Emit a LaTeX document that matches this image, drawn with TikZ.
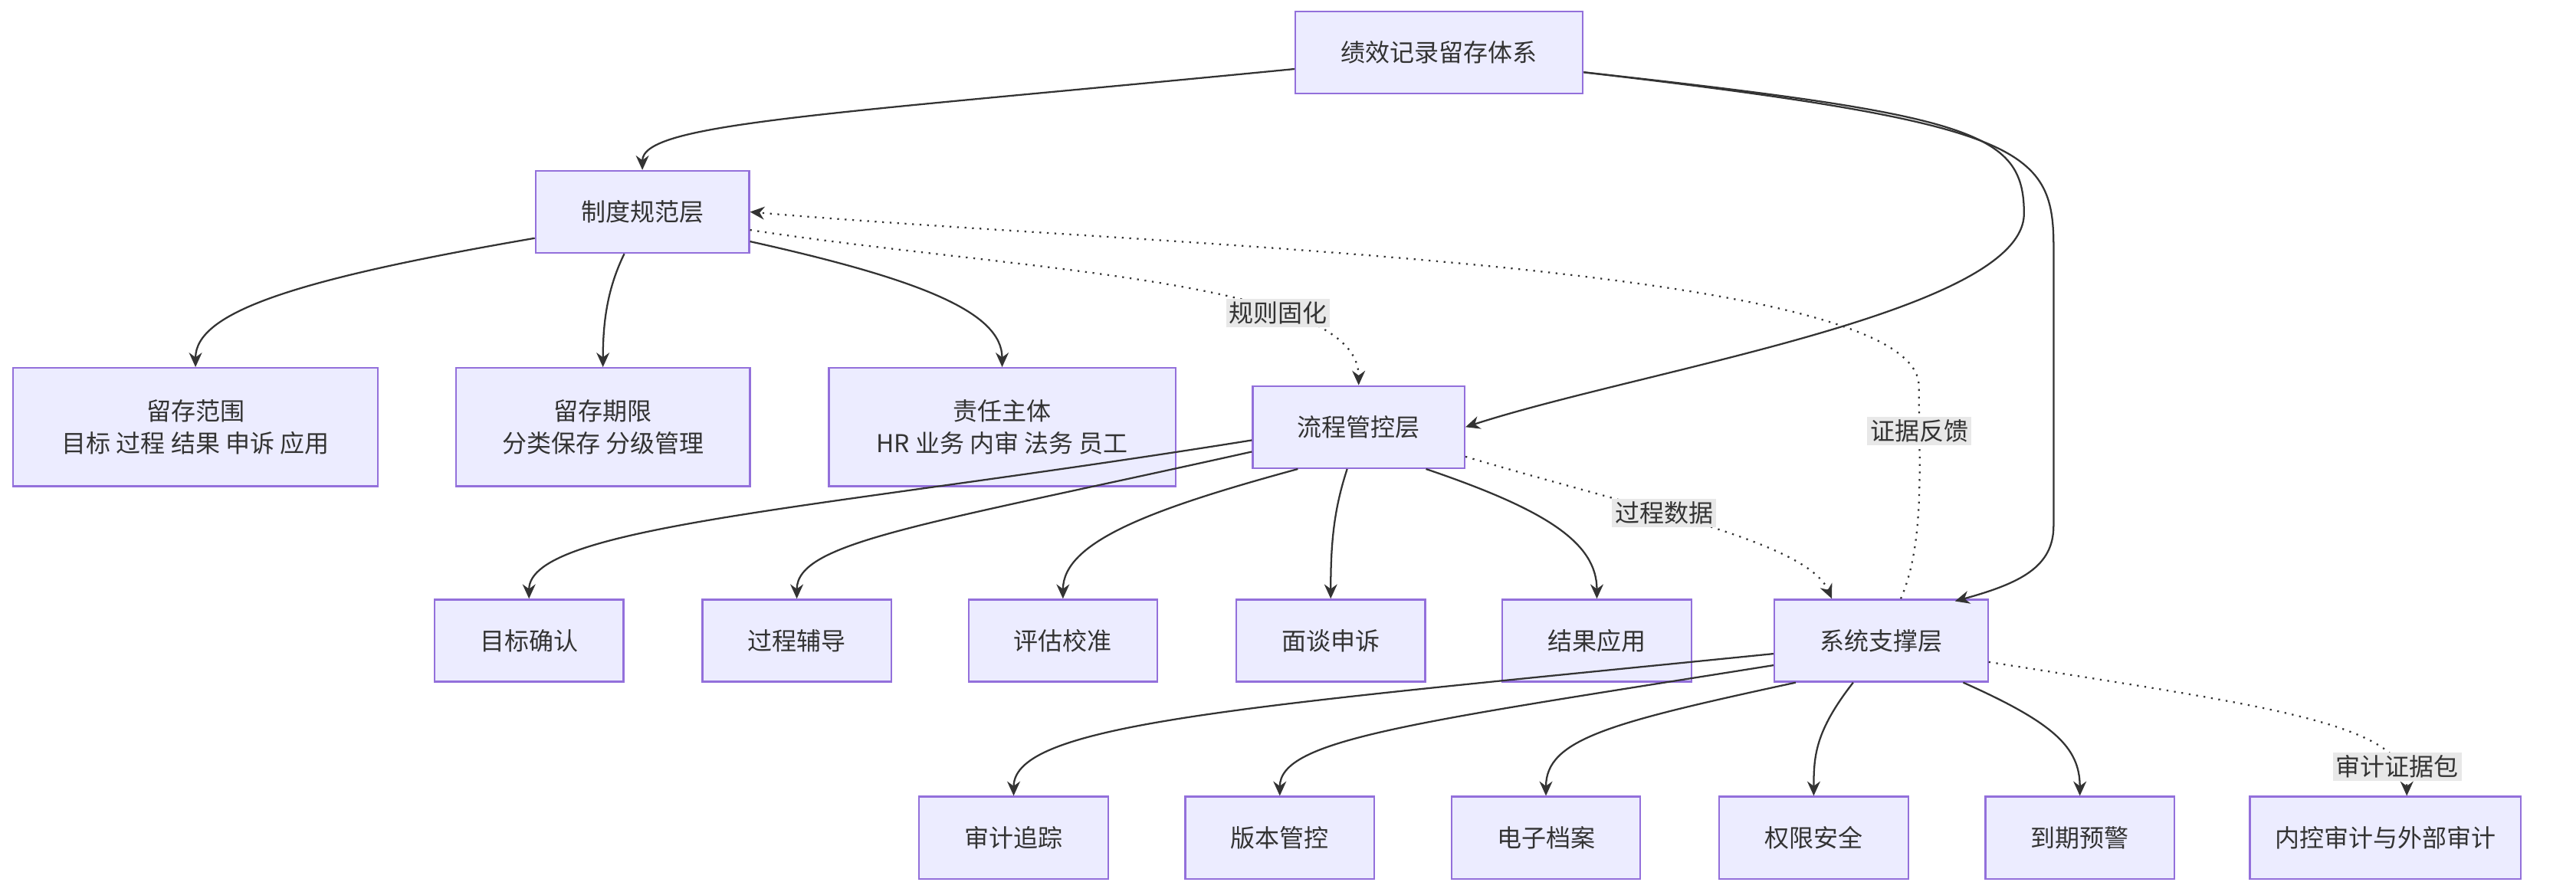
\documentclass[tikz,border=0pt]{standalone}
\usepackage{fontspec}
\setmainfont{Noto Sans CJK SC}
\usetikzlibrary{arrows.meta,calc}
\definecolor{nfill}{HTML}{ECECFF}
\definecolor{nline}{HTML}{9370DB}
\definecolor{eline}{HTML}{333333}
\begin{document}
\begin{tikzpicture}[x=0.02cm,y=-0.02cm,
  box/.style={draw=nline,fill=nfill,line width=0.6pt,minimum height=1cm,inner sep=1pt,font=\fontsize{8.5}{11}\selectfont,align=center,text=eline},
  tall/.style={box,minimum height=1.44cm},
  edge/.style={draw=eline,line width=0.6pt,-{Stealth[length=5pt,width=4.5pt]}},
  dot/.style={edge,dotted},
  lab/.style={fill=gray!18,inner sep=1pt,font=\fontsize{8.5}{11}\selectfont,text=eline}]
\useasboundingbox (0,0) rectangle (1568,543);
\node[box,minimum width=3.5cm] (root) at (876,32) {绩效记录留存体系};
\node[box,minimum width=2.6cm] (zd) at (391,129) {制度规范层};
\node[tall,minimum width=4.44cm] (fw) at (119,260) {留存范围\\目标 过程 结果 申诉 应用};
\node[tall,minimum width=3.58cm] (qx) at (367,260) {留存期限\\分类保存 分级管理};
\node[tall,minimum width=4.22cm] (zr) at (610,260) {责任主体\\HR 业务 内审 法务 员工};
\node[box,minimum width=2.58cm] (lc) at (827,260) {流程管控层};
\node[box,minimum width=2.3cm] (mb) at (322,390) {目标确认};
\node[box,minimum width=2.3cm] (gc) at (485,390) {过程辅导};
\node[box,minimum width=2.3cm] (pg) at (647,390) {评估校准};
\node[box,minimum width=2.3cm] (mt) at (810,390) {面谈申诉};
\node[box,minimum width=2.3cm] (jg) at (972,390) {结果应用};
\node[box,minimum width=2.6cm] (xt) at (1145,390) {系统支撑层};
\node[box,minimum width=2.3cm] (sj) at (617,510) {审计追踪};
\node[box,minimum width=2.3cm] (bb) at (779,510) {版本管控};
\node[box,minimum width=2.3cm] (da) at (941,510) {电子档案};
\node[box,minimum width=2.3cm] (qa) at (1104,510) {权限安全};
\node[box,minimum width=2.3cm] (dq) at (1266,510) {到期预警};
\node[box,minimum width=3.3cm] (nk) at (1452,510) {内控审计与外部审计};
% solid edges
\draw[edge] ($(root.west)+(0,10)$) .. controls (500,70) and (391,75) .. (zd.north);
\draw[edge] ($(root.east)+(0,12)$) .. controls (1200,70) and (1232,80) .. (1232,130) .. controls (1232,190) and (1000,225) .. (lc.east);
\draw[edge] ($(root.east)+(0,12)$) .. controls (1230,75) and (1250,90) .. (1250,150) -- (1250,320) .. controls (1250,345) and (1230,355) .. (1190,366);
\draw[edge] ($(zd.west)+(0,16)$) .. controls (180,170) and (119,190) .. (fw.north);
\draw[edge] ($(zd.south)+(-11,0)$) .. controls (370,175) and (367,195) .. (qx.north);
\draw[edge] ($(zd.east)+(0,18)$) .. controls (560,170) and (610,190) .. (zr.north);
\draw[edge] ($(lc.west)+(0,8)$) .. controls (500,310) and (322,320) .. (mb.north);
\draw[edge] ($(lc.west)+(0,15)$) .. controls (560,320) and (485,330) .. (gc.north);
\draw[edge] ($(lc.south)+(-37,0)$) .. controls (700,310) and (647,330) .. (pg.north);
\draw[edge] ($(lc.south)+(-7,0)$) .. controls (812,310) and (810,330) .. (mt.north);
\draw[edge] ($(lc.south)+(41,0)$) .. controls (940,310) and (972,330) .. (jg.north);
\draw[edge] ($(xt.west)+(0,8)$) .. controls (760,430) and (617,440) .. (sj.north);
\draw[edge] ($(xt.west)+(0,15)$) .. controls (860,440) and (779,450) .. (bb.north);
\draw[edge] ($(xt.south)+(-52,0)$) .. controls (980,440) and (941,450) .. (da.north);
\draw[edge] ($(xt.south)+(-17,0)$) .. controls (1105,445) and (1104,460) .. (qa.north);
\draw[edge] ($(xt.south)+(50,0)$) .. controls (1250,440) and (1266,455) .. (dq.north);
% dotted edges
\draw[dot] ($(zd.east)+(0,11)$) .. controls (620,165) and (827,170) .. node[lab,pos=0.7] {规则固化} (lc.north);
\draw[dot] ($(xt.north)+(12,0)$) .. controls (1172,330) and (1168,280) .. node[lab,pos=0.8] {证据反馈} (1168,235) .. controls (1168,160) and (700,150) .. (zd.east);
\draw[dot] ($(lc.east)+(0,18)$) .. controls (1000,310) and (1100,330) .. node[lab,pos=0.4] {过程数据} ($(xt.north)+(-30,0)$);
\draw[dot] ($(xt.east)+(0,13)$) .. controls (1380,430) and (1465,440) .. node[lab,pos=0.85] {审计证据包} ($(nk.north)+(13,0)$);
\end{tikzpicture}
\end{document}
